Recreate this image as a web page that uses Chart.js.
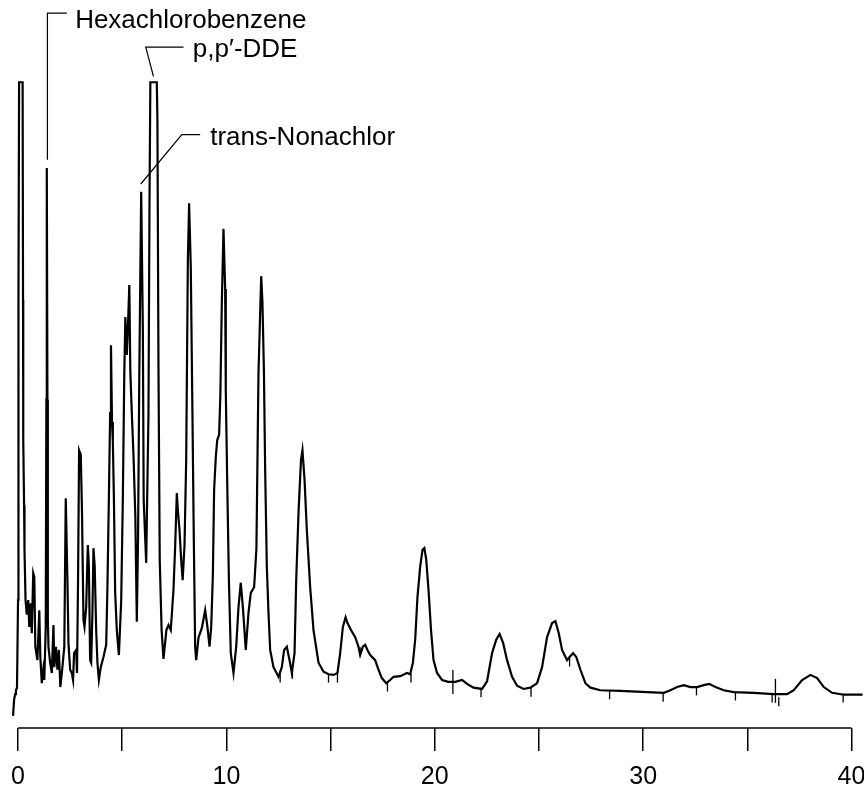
<!DOCTYPE html>
<html>
<head>
<meta charset="utf-8">
<script src="https://cdn.jsdelivr.net/npm/chart.js@4.4.1/dist/chart.umd.min.js"></script>
<style>
  html, body { margin: 0; padding: 0; background: #fff; overflow: hidden; }
  canvas { display: block; }
</style>
</head>
<body>
<canvas id="chart" width="864" height="792"></canvas>
<script>
// retention time (min)
const times = [
  -0.24, -0.19, -0.14, -0.10, -0.05, 0.00, 0.02, 0.05, 0.22, 0.24,
  0.25, 0.29, 0.31, 0.36, 0.42, 0.49, 0.54, 0.61, 0.66, 0.73,
  0.78, 0.83, 0.93, 1.02, 1.07, 1.14, 1.21, 1.26, 1.33, 1.36,
  1.38, 1.41, 1.43, 1.46, 1.54, 1.62, 1.70, 1.74, 1.82, 1.89,
  1.96, 2.03, 2.13, 2.22, 2.29, 2.37, 2.42, 2.50, 2.58, 2.64,
  2.69, 2.79, 2.83, 2.88, 2.93, 3.01, 3.07, 3.14, 3.19, 3.27,
  3.35, 3.40, 3.46, 3.51, 3.57, 3.62, 3.68, 3.75, 3.81, 3.88,
  3.97, 4.10, 4.23, 4.29, 4.36, 4.42, 4.46, 4.51, 4.55, 4.60,
  4.66, 4.74, 4.84, 4.95, 5.03, 5.10, 5.15, 5.22, 5.27, 5.34,
  5.39, 5.46, 5.54, 5.63, 5.70, 5.76, 5.82, 5.91, 5.99, 6.03,
  6.15, 6.26, 6.31, 6.35, 6.66, 6.69, 6.74, 6.80, 6.89, 6.98,
  7.12, 7.22, 7.33, 7.46, 7.54, 7.62, 7.67, 7.75, 7.83, 7.90,
  7.99, 8.07, 8.15, 8.21, 8.29, 8.37, 8.43, 8.50, 8.55, 8.66,
  8.82, 8.98, 9.09, 9.19, 9.27, 9.35, 9.41, 9.49, 9.56, 9.65,
  9.71, 9.78, 9.86, 9.94, 9.97, 10.05, 10.12, 10.21, 10.34, 10.47,
  10.58, 10.69, 10.79, 10.93, 11.06, 11.17, 11.33, 11.44, 11.49, 11.54,
  11.67, 11.73, 11.80, 11.86, 11.94, 12.02, 12.10, 12.26, 12.50, 12.66,
  12.77, 12.90, 13.03, 13.14, 13.27, 13.35, 13.46, 13.58, 13.65, 13.75,
  13.86, 14.02, 14.18, 14.42, 14.66, 14.90, 15.14, 15.33, 15.46, 15.59,
  15.72, 15.81, 15.98, 16.18, 16.34, 16.42, 16.55, 16.66, 16.77, 16.90,
  17.14, 17.30, 17.46, 17.67, 17.86, 18.02, 18.34, 18.67, 18.82, 18.95,
  19.06, 19.17, 19.30, 19.41, 19.50, 19.59, 19.70, 19.82, 19.94, 20.11,
  20.35, 20.65, 20.98, 21.31, 21.55, 21.86, 22.27, 22.51, 22.75, 22.95,
  23.11, 23.28, 23.47, 23.71, 23.95, 24.26, 24.59, 24.91, 25.15, 25.39,
  25.63, 25.79, 25.95, 26.11, 26.35, 26.47, 26.64, 26.79, 26.99, 27.23,
  27.47, 27.95, 28.91, 30.19, 30.99, 31.31, 31.63, 31.95, 32.27, 32.59,
  32.91, 33.17, 33.47, 33.87, 34.35, 35.31, 36.27, 36.91, 37.23, 37.63,
  38.03, 38.35, 38.67, 39.07, 39.63, 40.53
]

// detector response (arbitrary units, off-scale above ~101)
const signal = [
  1.9, 4.4, 5.3, 5.9, 6.3, 20.0, 66.9, 100.9, 100.9, 66.9,
  45.0, 34.8, 27.8, 20.0, 17.7, 20.0, 15.8, 19.5, 14.8, 24.2,
  23.6, 12.7, 10.6, 18.4, 11.1, 7.0, 9.1, 7.5, 15.8, 51.3,
  87.5, 51.3, 16.9, 12.7, 10.2, 8.6, 16.1, 9.5, 12.7, 9.1,
  12.2, 6.4, 9.5, 12.7, 35.9, 23.1, 13.3, 9.1, 8.6, 7.5,
  11.7, 12.2, 8.6, 23.1, 43.4, 42.7, 33.6, 16.9, 15.8, 18.9,
  28.6, 25.2, 10.6, 10.2, 18.0, 28.1, 25.2, 15.3, 10.2, 7.5,
  9.5, 11.1, 13.0, 22.0, 36.1, 49.2, 59.8, 47.8, 44.7, 36.1,
  21.3, 15.3, 11.4, 19.8, 36.1, 55.6, 64.2, 58.3, 62.2, 69.2,
  55.6, 49.2, 42.7, 33.0, 16.6, 29.7, 55.6, 83.8, 62.2, 35.6,
  25.8, 49.2, 82.5, 100.9, 100.9, 94.7, 56.3, 26.3, 15.3, 10.8,
  15.3, 16.1, 15.3, 21.6, 28.3, 36.7, 34.1, 30.9, 26.3, 23.1,
  28.6, 41.9, 73.1, 82.0, 72.0, 49.2, 30.9, 12.7, 10.6, 14.1,
  15.6, 18.4, 15.8, 12.7, 15.8, 23.9, 37.2, 42.3, 45.0, 45.8,
  52.0, 66.4, 78.0, 68.6, 52.7, 36.3, 23.1, 11.7, 8.6, 12.7,
  18.9, 22.7, 18.9, 12.2, 18.0, 21.1, 22.0, 28.0, 41.7, 55.5,
  70.6, 66.4, 55.9, 40.3, 25.2, 18.0, 12.2, 9.5, 8.0, 9.5,
  12.2, 12.7, 10.6, 8.6, 11.7, 23.1, 33.6, 41.9, 43.4, 38.8,
  30.9, 22.0, 15.3, 10.2, 8.8, 8.4, 8.3, 8.6, 11.7, 15.8,
  17.3, 16.4, 15.3, 14.2, 12.7, 11.4, 12.7, 13.0, 12.2, 11.4,
  10.6, 9.1, 7.8, 7.0, 7.5, 8.0, 8.1, 8.6, 8.4, 10.2,
  13.8, 20.5, 25.2, 27.8, 28.1, 26.3, 21.6, 15.3, 10.6, 8.6,
  7.5, 7.2, 7.2, 7.5, 6.9, 6.3, 6.1, 7.3, 11.7, 13.8,
  14.7, 13.3, 10.6, 8.0, 6.6, 6.1, 6.3, 7.0, 9.5, 14.2,
  16.4, 16.7, 14.8, 12.2, 10.6, 11.1, 11.7, 11.1, 9.1, 7.0,
  6.3, 5.9, 5.8, 5.6, 5.5, 5.9, 6.4, 6.7, 6.4, 6.4,
  6.7, 6.9, 6.4, 5.9, 5.6, 5.5, 5.3, 5.3, 5.9, 7.5,
  8.3, 7.8, 6.4, 5.5, 5.2, 5.2
]

// integrator event marks on the trace
const markTimes = [12.58, 13.17, 14.90, 15.33, 16.42, 17.73, 18.86, 22.22, 24.62, 26.47,
  28.39, 30.96, 32.56, 34.43, 36.19, 36.51, 39.60]
const markLevels = [7.8, 8.4, 7.8, 7.8, 11.9, 6.4, 7.8, 5.5, 5.6, 10.3,
  5.2, 4.8, 5.8, 5.0, 4.7, 4.1, 4.7]
const longMarkTimes = [20.87, 36.35]
const longMarkLevels = [7.2, 5.8]

const xTicks = [0, 10, 20, 30, 40]

// peak labels: leader line (time, response) and text anchor
const peakLabels = [
  { text: 'Hexachlorobenzene', line: [[1.41, 88.8], [1.41, 111.7], [2.34, 111.7]], at: [2.74, 109.3] },
  { text: 'p,p\u2032-DDE', line: [[6.50, 101.8], [6.13, 106.4], [7.94, 106.4]], at: [8.39, 104.8] },
  { text: 'trans-Nonachlor', line: [[5.89, 85.0], [7.86, 92.7], [8.74, 92.7]], at: [9.22, 91.1] }
]

const FONT = '"Liberation Sans", Arial, sans-serif'

const decor = {
  id: 'decor',
  afterDraw (chart) {
    const { ctx, chartArea } = chart
    const x = chart.scales.x
    const y = chart.scales.y
    ctx.save()
    ctx.strokeStyle = '#000'
    ctx.lineWidth = 1.5
    ctx.beginPath()
    ctx.moveTo(x.getPixelForValue(0), chartArea.bottom)
    ctx.lineTo(x.getPixelForValue(40), chartArea.bottom)
    ctx.stroke()

    ctx.lineWidth = 1.2
    ctx.fillStyle = '#000'
    ctx.font = '26px ' + FONT
    ctx.textBaseline = 'alphabetic'
    peakLabels.forEach((p) => {
      ctx.beginPath()
      p.line.forEach(([t, v], i) => {
        const px = x.getPixelForValue(t)
        const py = y.getPixelForValue(v)
        if (i === 0) ctx.moveTo(px, py)
        else ctx.lineTo(px, py)
      })
      ctx.stroke()
      ctx.fillText(p.text, x.getPixelForValue(p.at[0]), y.getPixelForValue(p.at[1]))
    })
    ctx.restore()
  }
}

new Chart(document.getElementById('chart'), {
  type: 'line',
  data: {
    datasets: [
      {
        data: times.map((t, i) => ({ x: t, y: signal[i] })),
        borderColor: '#000',
        borderWidth: 2.2,
        pointRadius: 0,
        tension: 0
      },
      {
        data: markTimes.map((t, i) => ({ x: t, y: markLevels[i] })),
        showLine: false,
        pointStyle: 'line',
        rotation: 90,
        pointRadius: 4.5,
        borderColor: '#000',
        borderWidth: 1.3
      },
      {
        data: longMarkTimes.map((t, i) => ({ x: t, y: longMarkLevels[i] })),
        showLine: false,
        pointStyle: 'line',
        rotation: 90,
        pointRadius: 12,
        borderColor: '#000',
        borderWidth: 1.3
      }
    ]
  },
  options: {
    responsive: false,
    animation: false,
    devicePixelRatio: 1,
    layout: { autoPadding: false, padding: { left: 12, right: 0, top: 24, bottom: 0 } },
    plugins: { legend: { display: false }, tooltip: { enabled: false } },
    scales: {
      x: {
        type: 'linear',
        min: -0.29,
        max: 40.6,
        afterFit: (scale) => {
          scale.height = 64
          scale.paddingLeft = 0
          scale.paddingRight = 0
        },
        border: { display: false },
        grid: { drawOnChartArea: false, drawTicks: true, tickLength: 23, color: '#000', lineWidth: 1.5 },
        ticks: {
          stepSize: 5,
          includeBounds: false,
          autoSkip: false,
          maxRotation: 0,
          padding: 11,
          color: '#000',
          font: { size: 25, family: FONT },
          callback: (value) => (xTicks.includes(value) ? value : '')
        }
      },
      y: {
        display: false,
        min: 0,
        max: 110
      }
    }
  },
  plugins: [decor]
})
</script>
</body>
</html>
